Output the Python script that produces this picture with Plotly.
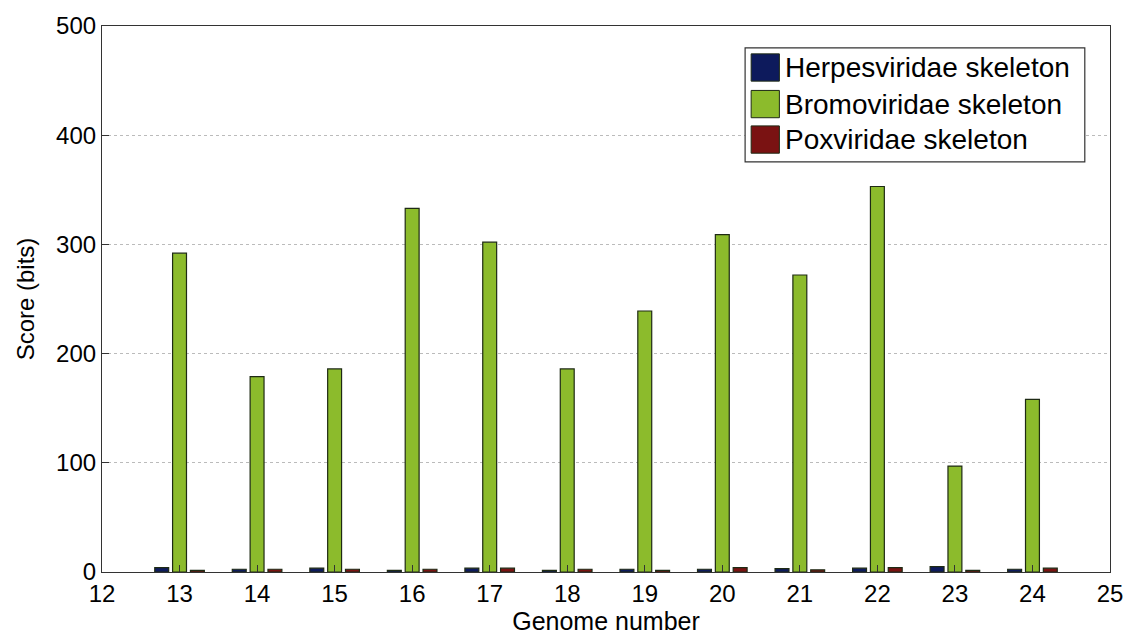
import plotly.graph_objects as go

# Genome numbers on the x axis
genomes = [13, 14, 15, 16, 17, 18, 19, 20, 21, 22, 23, 24]

# Alignment scores (bits) against each family skeleton
herpesviridae = [4, 2.5, 3.5, 1.5, 3.5, 1.5, 2.5, 2.5, 3, 3.5, 5, 2.5]
bromoviridae = [292, 179, 186, 333, 302, 186, 239, 309, 272, 353, 97, 158]
poxviridae = [1.5, 2.5, 2.5, 2.5, 3.5, 2.5, 1.5, 4, 2, 4, 1.5, 3.5]

series = [
    ("Herpesviridae skeleton", herpesviridae, "#0d1a5c"),
    ("Bromoviridae skeleton", bromoviridae, "#8cbb2c"),
    ("Poxviridae skeleton", poxviridae, "#7a1212"),
]

x_ticks = list(range(12, 26))
y_ticks = [0, 100, 200, 300, 400, 500]

edge = "#1e2a14"
fig = go.Figure()
for name, vals, color in series:
    fig.add_trace(go.Bar(
        x=genomes, y=vals, name=name, showlegend=False,
        marker=dict(color=color, line=dict(color=edge, width=1.2)),
    ))

# Legend box drawn in paper coordinates with large square swatches
legend_box = dict(x0=0.638, x1=0.975, y0=0.751, y1=0.960)
row_y = [0.924, 0.857, 0.792]
sw_x0, sw_x1, sw_half = 0.644, 0.672, 0.025
shapes = [dict(type="rect", xref="paper", yref="paper", **legend_box,
               fillcolor="white", line=dict(color="#333333", width=1.2),
               layer="above")]
annotations = []
for (name, _, color), yc in zip(series, row_y):
    shapes.append(dict(type="rect", xref="paper", yref="paper",
                       x0=sw_x0, x1=sw_x1, y0=yc - sw_half, y1=yc + sw_half,
                       fillcolor=color, line=dict(color=edge, width=1),
                       layer="above"))
    annotations.append(dict(xref="paper", yref="paper", x=0.6756, y=yc,
                            xanchor="left", yanchor="middle", showarrow=False,
                            text=name, font=dict(size=28, color="black")))

font_family = "Liberation Sans, Arial, sans-serif"

fig.update_layout(
    width=1137, height=638,
    margin=dict(l=102, r=27, t=18, b=66),
    paper_bgcolor="white", plot_bgcolor="white",
    barmode="group", bargap=0.31, bargroupgap=0.22,
    font=dict(family=font_family, size=24, color="black"),
    showlegend=False,
    shapes=shapes,
    annotations=annotations,
    xaxis=dict(
        range=[12, 25], tickvals=x_ticks, ticktext=[str(t) for t in x_ticks],
        ticks="inside", ticklen=7, tickcolor="#333333",
        showline=True, linecolor="#333333", linewidth=1.2, mirror=True,
        showgrid=False, zeroline=False,
        title=dict(text="Genome number", font=dict(size=25), standoff=0),
        tickfont=dict(size=24),
    ),
    yaxis=dict(
        range=[0, 500], tickvals=y_ticks,
        ticks="inside", ticklen=7, tickcolor="#333333",
        showline=True, linecolor="#333333", linewidth=1.2, mirror=True,
        showgrid=True, gridcolor="#bbbbbb", griddash="dot", gridwidth=1,
        zeroline=False,
        title=dict(text="Score (bits)", font=dict(size=24), standoff=14),
        tickfont=dict(size=24),
    ),
)

fig.write_html("out.html")
